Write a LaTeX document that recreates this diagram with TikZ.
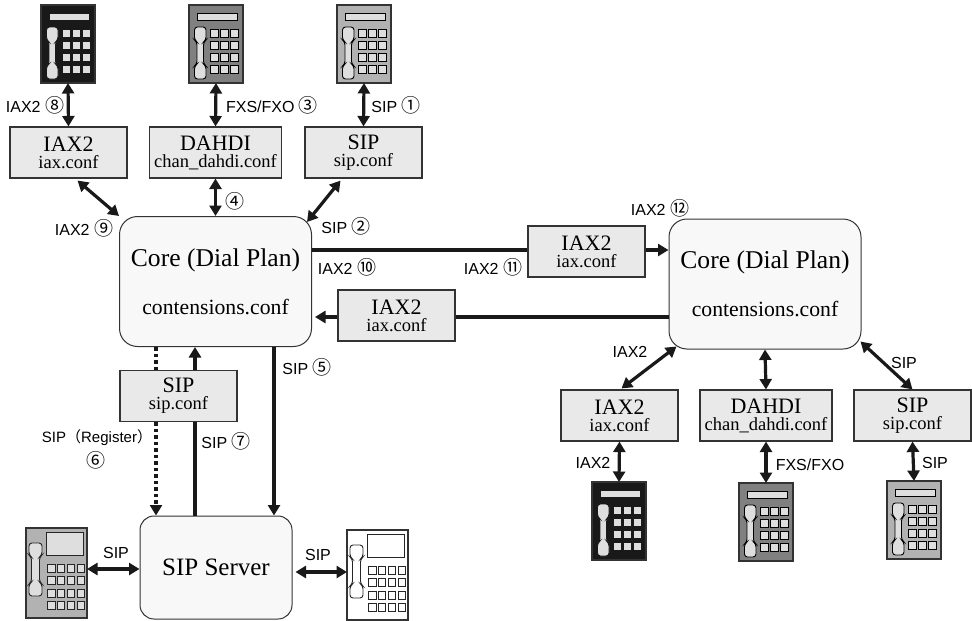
\documentclass[tikz,border=0pt]{standalone}
\usepackage{fontspec}
\setmainfont{Liberation Serif}
\newfontfamily\lblfont{Liberation Sans}
\newfontfamily\cjkfont{Noto Sans CJK JP}
\usetikzlibrary{arrows.meta}
\newcommand{\cn}[1]{{\cjkfont\fontsize{19}{19}\selectfont #1}}
\newcommand{\pn}[1]{{\cjkfont #1}}
\definecolor{boxgray}{HTML}{E9E9E9}
\definecolor{coregray}{HTML}{F8F8F8}
\definecolor{edgegray}{HTML}{333333}
\tikzset{
    confbox/.style={draw=edgegray, fill=boxgray, line width=1.1pt, minimum width=117pt, minimum height=51pt, inner sep=0pt, align=center, font=\fontsize{18.5}{17}\selectfont},
    corebox/.style={draw=black!80, fill=coregray, line width=1pt, rounded corners=18pt, minimum width=192pt, minimum height=130pt, inner sep=0pt, align=center, font=\fontsize{21.7}{48}\selectfont},
    link/.style={line width=3.2pt, black!90},
    both/.style={link, {Triangle[width=12pt,length=10.5pt]}-{Triangle[width=12pt,length=10.5pt]}},
    oneway/.style={link, -{Triangle[width=12pt,length=10.5pt]}},
    dots/.style={dash pattern=on 3.5pt off 3pt},
    lbl/.style={inner sep=0pt, font=\lblfont\fontsize{16}{16}\selectfont},
    telbody/.style={inner sep=0pt, outer sep=0pt, line width=1.1pt, draw=edgegray},
}
\newcommand{\conftext}[2]{{\fontsize{22}{17}\selectfont #1}\\{#2}}
\newcommand{\coretext}{{\fontsize{25.6}{48}\selectfont Core (Dial Plan)}\\contensions.conf}
% name, left, top, body, parts, part outline
\newcommand{\teltall}[6]{
    \node[telbody, fill=#4, minimum width=54pt, minimum height=78pt] (#1) at (#2+27, #3+39) {};
    \begin{scope}[shift={(#2, #3)}, draw=#6, fill=#5, line width=0.9pt]
        \filldraw (8, 8) rectangle (48, 15.5);
        \filldraw[rounded corners=3pt] (5.5, 22) -- (17, 22) -- (17, 35) -- (14.5, 37) -- (14.5, 59) -- (17, 61) -- (17, 74) -- (5.5, 74) -- (5.5, 61) -- (8, 59) -- (8, 37) -- (5.5, 35) -- cycle;
        \foreach \keyy in {24, 36, 48, 60.5}
            \foreach \keyx in {21.5, 31.5, 41}
                \filldraw (\keyx, \keyy) rectangle +(8, 8);
    \end{scope}
}
\newcommand{\teldesk}[5]{
    \node[telbody, fill=#4, minimum width=61pt, minimum height=90pt] (#1) at (#2+30.5, #3+45) {};
    \begin{scope}[shift={(#2, #3)}, draw=black!85, fill=#5, line width=0.9pt]
        \filldraw (20, 4) rectangle (57, 27);
        \filldraw[rounded corners=3pt] (3, 15) -- (16, 15) -- (16, 27) -- (13.5, 29) -- (13.5, 54) -- (16, 56) -- (16, 68) -- (3, 68) -- (3, 56) -- (5.5, 54) -- (5.5, 29) -- (3, 27) -- cycle;
        \foreach \keyy in {36, 48.5, 61, 73}
            \foreach \keyx in {21.5, 31, 41, 51}
                \filldraw (\keyx, \keyy) rectangle +(7.5, 8);
    \end{scope}
}
\begin{document}
\begin{tikzpicture}[x=1pt, y=-1pt]
    \useasboundingbox (0, 0) rectangle (972, 621);
    % telephones
    \teltall{telA}{41}{5}{black!90}{black!13}{black!90}
    \teltall{telB}{189}{5}{black!50}{black!13}{black}
    \teltall{telC}{337}{5}{black!30}{black!13}{black}
    \teltall{telD}{592}{482}{black!90}{black!13}{black!90}
    \teltall{telE}{739}{483}{black!50}{black!13}{black}
    \teltall{telF}{887}{481}{black!30}{black!13}{black}
    \teldesk{telG}{26}{528}{black!30}{black!13}
    \teldesk{telH}{347}{530}{white}{white}
    % config boxes
    \node[confbox] (iaxA) at (68.5, 152.5) {\conftext{IAX2}{iax.conf}};
    \node[confbox, minimum width=132pt] (dahdiA) at (215.5, 152.5) {\conftext{DAHDI}{chan\_dahdi.conf}};
    \node[confbox] (sipA) at (363.5, 152.5) {\conftext{SIP}{sip.conf}};
    \node[confbox] (iaxT) at (586.5, 251.5) {\conftext{IAX2}{iax.conf}};
    \node[confbox] (iaxB) at (396.5, 315.5) {\conftext{IAX2}{iax.conf}};
    \node[confbox] (sipM) at (178.5, 396) {\conftext{SIP}{sip.conf}};
    \node[confbox] (iaxC) at (619.5, 415.5) {\conftext{IAX2}{iax.conf}};
    \node[confbox, minimum width=132pt] (dahdiC) at (766, 415.5) {\conftext{DAHDI}{chan\_dahdi.conf}};
    \node[confbox] (sipC) at (912.5, 415.5) {\conftext{SIP}{sip.conf}};
    % rounded boxes
    \node[corebox] (coreL) at (215.5, 281.5) {\coretext};
    \node[corebox] (coreR) at (765, 284) {\coretext};
    \node[corebox, rounded corners=14pt, minimum width=152pt, minimum height=103pt, font=\fontsize{25}{27}\selectfont] (server) at (216, 567.5) {SIP Server};
    % helpers for the straight runs
    \coordinate (rowT) at (0, 250);
    \coordinate (rowB) at (0, 317);
    \coordinate (colD) at (156, 0);
    \coordinate (colU) at (195, 0);
    \coordinate (colS) at (274, 0);
    \coordinate (rowG) at (0, 569);
    \coordinate (rowH) at (0, 572);
    % up and down links
    \draw[both] (telA.south) to (iaxA.north);
    \draw[both] (telB.south) to (dahdiA.north);
    \draw[both] (telC.south) to (sipA.north);
    \draw[both] (dahdiA.south) to (coreL.north);
    \draw[both] (iaxA.south) ++(9, 2) to (coreL.north west);
    \draw[both] (sipA.south) ++(-23, 2) to ([shift={(-5, 6)}]coreL.north east);
    \draw[both] (telD.north) to (iaxC.south);
    \draw[both] (telE.north) to (dahdiC.south);
    \draw[both] (telF.north) to (sipC.south);
    \draw[both] (dahdiC.north) to (coreR.south);
    \draw[both] (iaxC.north) ++(2, -1) to ([shift={(8, -3)}]coreR.south west);
    \draw[both] (sipC.north) to ([shift={(-1, -8)}]coreR.south east);
    % between the two cores
    \draw[link] (coreL.east |- rowT) to (iaxT.west |- rowT);
    \draw[oneway] (iaxT.east |- rowT) to (coreR.west |- rowT);
    \draw[link] (coreR.west |- rowB) to (iaxB.east |- rowB);
    \draw[oneway] (iaxB.west |- rowB) to ([xshift=3pt]coreL.east |- rowB);
    % towards the server
    \draw[link, dots] (coreL.south -| colD) to (sipM.north -| colD);
    \draw[oneway, dots] (sipM.south -| colD) to (server.north -| colD);
    \draw[link] (server.north -| colU) to (sipM.south -| colU);
    \draw[oneway] (sipM.north -| colU) to (coreL.south -| colU);
    \draw[oneway] (coreL.south -| colS) to (server.north -| colS);
    \draw[both] (telG.east |- rowG) to (server.west |- rowG);
    \draw[both] (server.east |- rowH) ++(3, 0) to (telH.west |- rowH);
    % labels
    \node[lbl] (lblA) at (35, 105) {IAX2 \cn{⑧}};
    \node[lbl] (lblB) at (272, 105) {FXS/FXO \cn{③}};
    \node[lbl] (lblC) at (396, 105) {SIP \cn{①}};
    \node[lbl] (lblD) at (235, 201) {\cn{④}};
    \node[lbl] (lblE) at (84, 228) {IAX2 \cn{⑨}};
    \node[lbl] (lblF) at (346, 226) {SIP \cn{②}};
    \node[lbl] (lblG) at (347, 267) {IAX2 \cn{⑩}};
    \node[lbl] (lblH) at (493, 267) {IAX2 \cn{⑪}};
    \node[lbl] (lblI) at (660, 208) {IAX2 \cn{⑫}};
    \node[lbl] (lblJ) at (307, 367) {SIP \cn{⑤}};
    \node[lbl, font=\lblfont\fontsize{15}{15}\selectfont] (lblK) at (97, 438) {SIP\pn{（}Register\pn{）}};
    \node[lbl] (lblL) at (96, 460) {\cn{⑥}};
    \node[lbl] (lblM) at (226, 441) {SIP \cn{⑦}};
    \node[lbl] (lblN) at (116, 553) {SIP};
    \node[lbl] (lblO) at (318, 555) {SIP};
    \node[lbl] (lblP) at (630, 352) {IAX2};
    \node[lbl] (lblQ) at (904, 363) {SIP};
    \node[lbl] (lblR) at (593, 463) {IAX2};
    \node[lbl] (lblS) at (810, 465) {FXS/FXO};
    \node[lbl] (lblT) at (935, 463) {SIP};
\end{tikzpicture}
\end{document}
